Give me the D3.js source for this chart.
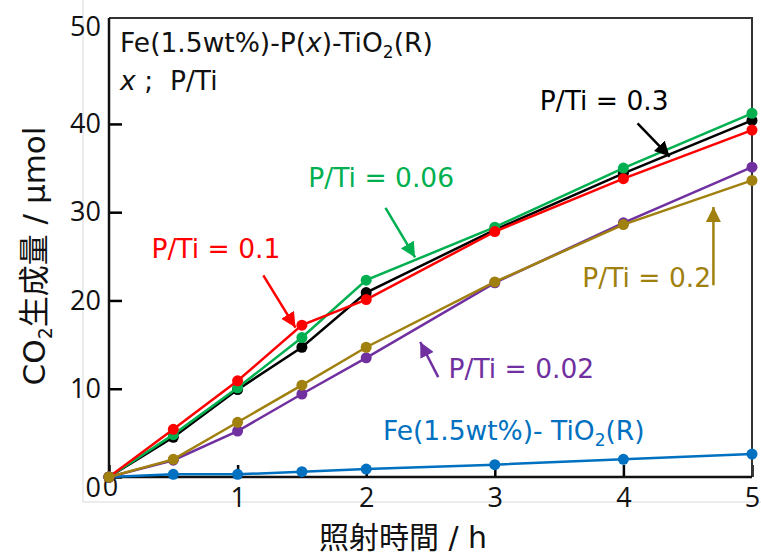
<!DOCTYPE html>
<html>
<head>
<meta charset="utf-8">
<script src="https://cdn.jsdelivr.net/npm/d3@7"></script>
<style>
  body { margin: 0; background: #fff; }
  svg { font-family: "DejaVu Sans", "Noto Sans CJK JP", sans-serif; }
  .pre { white-space: pre; }
</style>
</head>
<body>
<svg width="761" height="554"></svg>
<script>
// irradiation time (h)
var hours = [0, 0.5, 1, 1.5, 2, 3, 4, 5];

// CO2 evolved (umol) for each sample
var feOnly  = [0, 0.3, 0.3, 0.6, 0.9, 1.4, 2.0, 2.6];
var pti002  = [0, 1.9, 5.2, 9.4, 13.5, 22.0, 28.8, 35.1];
var pti006  = [0, 4.8, 10.1, 15.8, 22.3, 28.3, 35.0, 41.2];
var pti01   = [0, 5.4, 10.9, 17.2, 20.1, 27.8, 33.8, 39.3];
var pti02   = [0, 2.0, 6.2, 10.4, 14.7, 22.1, 28.6, 33.6];
var pti03   = [0, 4.5, 9.9, 14.7, 20.9, 28.0, 34.4, 40.4];

var yTicks = [0, 10, 20, 30, 40, 50];
var xTicks = [0, 1, 2, 3, 4, 5];

// drawing order matters (later ones on top)
var series = [
  {name: "Fe(1.5wt%)-TiO2(R)", values: feOnly, color: "#0070c0"},
  {name: "P/Ti = 0.3",  values: pti03,  color: "#000000"},
  {name: "P/Ti = 0.06", values: pti006, color: "#00b050"},
  {name: "P/Ti = 0.1",  values: pti01,  color: "#ff0000"},
  {name: "P/Ti = 0.02", values: pti002, color: "#7030a0"},
  {name: "P/Ti = 0.2",  values: pti02,  color: "#a0800e"}
];

var svg = d3.select("svg");
var pLeft = 109, pRight = 752, pTop = 18, pBottom = 477;

var x = d3.scaleLinear().domain([0, 5]).range([pLeft, pRight]);
var y = d3.scaleLinear().domain([0, 52]).range([pBottom, pTop]);

// faint frame of the pasted picture
svg.append("path")
  .attr("d", "M83,0V502H761")
  .attr("fill", "none")
  .attr("stroke", "#e6e6e6")
  .attr("stroke-width", 1.5);

// arrow heads
var defs = svg.append("defs");
series.forEach(function(s, i) {
  defs.append("marker")
    .attr("id", "arr" + i)
    .attr("viewBox", "0 0 10 10")
    .attr("refX", 10).attr("refY", 5)
    .attr("markerWidth", 6).attr("markerHeight", 6)
    .attr("markerUnits", "strokeWidth")
    .attr("orient", "auto")
    .append("path")
    .attr("d", "M0,0L10,5L0,10z")
    .attr("fill", s.color);
});

// y axis
var yAxis = svg.append("g")
  .attr("transform", "translate(" + pLeft + ",0)")
  .call(d3.axisLeft(y).tickValues(yTicks).tickFormat(d3.format("d"))
    .tickSizeInner(-13).tickSizeOuter(0).tickPadding(8));
yAxis.select(".domain").remove();
yAxis.selectAll(".tick line").attr("stroke-width", 2.5).filter(function(d) { return d == 50; }).remove();
yAxis.selectAll(".tick text").attr("font-size", 27).attr("fill", "#111")
  .attr("font-family", "Open Sans");
yAxis.selectAll(".tick text").filter(function(d) { return d == 0; }).attr("y", 11);
yAxis.selectAll(".tick text").filter(function(d) { return d == 50; }).attr("y", -9);

// x axis
var xAxis = svg.append("g")
  .attr("transform", "translate(0," + pBottom + ")")
  .call(d3.axisBottom(x).tickValues(xTicks).tickFormat(d3.format("d"))
    .tickSizeInner(-12).tickSizeOuter(0).tickPadding(11));
xAxis.select(".domain").remove();
xAxis.selectAll(".tick line").attr("stroke-width", 2.5);
xAxis.selectAll(".tick text").attr("font-size", 27).attr("fill", "#111")
  .attr("font-family", "Open Sans");
xAxis.selectAll(".tick text").filter(function(d) { return d == 0; }).attr("y", 0).attr("dx", 1);

// plot box
svg.append("path")
  .attr("d", "M" + pLeft + "," + pTop + "H" + pRight + "V" + pBottom)
  .attr("fill", "none").attr("stroke", "#333").attr("stroke-width", 2);
svg.append("path")
  .attr("d", "M" + pLeft + "," + pTop + "V" + pBottom + "H" + pRight)
  .attr("fill", "none").attr("stroke", "#111").attr("stroke-width", 2.5);

// lines and points
var line = d3.line()
  .x(function(d, i) { return x(hours[i]); })
  .y(function(d) { return y(d); });

series.forEach(function(s) {
  svg.append("path")
    .attr("d", line(s.values))
    .attr("fill", "none")
    .attr("stroke", s.color)
    .attr("stroke-width", 2.5);
  svg.selectAll(null)
    .data(s.values)
    .enter().append("circle")
    .attr("cx", function(d, i) { return x(hours[i]); })
    .attr("cy", function(d) { return y(d); })
    .attr("r", 5.5)
    .attr("fill", s.color);
});

var fs = 26.5;

// labels (data coords)
var labels = [
  {si: 1, text: "P/Ti = 0.3",  lx: 3.35, ly: 41.6, a: [4.11, 40.07, 4.36, 36.3]},
  {si: 2, text: "P/Ti = 0.06", lx: 1.55, ly: 32.83, a: [2.15, 30.49, 2.38, 24.88]},
  {si: 3, text: "P/Ti = 0.1",  lx: 0.33, ly: 24.78, a: [1.20, 22.84, 1.45, 16.93]},
  {si: 5, text: "P/Ti = 0.2",  lx: 3.68, ly: 21.51, a: [4.70, 21.72, 4.70, 30.59]},
  {si: 4, text: "P/Ti = 0.02", lx: 2.64, ly: 11.22, a: [2.56, 11.32, 2.42, 15.29]}
];

labels.forEach(function(l) {
  var c = series[l.si].color;
  svg.append("text")
    .attr("x", x(l.lx)).attr("y", y(l.ly))
    .attr("font-size", fs).attr("fill", c)
    .text(l.text);
  svg.append("line")
    .attr("x1", x(l.a[0])).attr("y1", y(l.a[1]))
    .attr("x2", x(l.a[2])).attr("y2", y(l.a[3]))
    .attr("stroke", c).attr("stroke-width", 2.5)
    .attr("marker-end", "url(#arr" + l.si + ")");
});

// blue label with subscript
var bl = svg.append("text")
  .attr("x", x(2.13)).attr("y", y(4.18))
  .attr("font-size", fs).attr("fill", series[0].color);
bl.append("tspan").text("Fe(1.5wt%)- TiO");
bl.append("tspan").attr("font-size", 17).attr("dy", 6).text("2");
bl.append("tspan").attr("dy", -6).text("(R)");

// title
var t1 = svg.append("text")
  .attr("x", x(0.086)).attr("y", y(48.12))
  .attr("font-size", fs).attr("fill", "#111");
t1.append("tspan").text("Fe(1.5wt%)-P(");
t1.append("tspan").attr("font-style", "italic").text("x");
t1.append("tspan").text(")-TiO");
t1.append("tspan").attr("font-size", 17).attr("dy", 6).text("2");
t1.append("tspan").attr("dy", -6).text("(R)");

var t2 = svg.append("text")
  .attr("class", "pre")
  .attr("x", x(0.086)).attr("y", y(43.84))
  .attr("font-size", fs).attr("fill", "#111");
t2.append("tspan").attr("font-style", "italic").text("x");
t2.append("tspan").text(" ;  P/Ti");

// axis titles
svg.append("text")
  .attr("x", 403).attr("y", 548)
  .attr("text-anchor", "middle")
  .attr("font-size", 30).attr("fill", "#111")
  .text("照射時間 / h");

var yt = svg.append("text")
  .attr("transform", "translate(45,256) rotate(-90)")
  .attr("text-anchor", "middle")
  .attr("font-size", 31).attr("fill", "#111");
yt.append("tspan").text("CO");
yt.append("tspan").attr("font-size", 19).attr("dy", 7).text("2");
yt.append("tspan").attr("dy", -7).text("生成量 / μmol");
</script>
</body>
</html>
